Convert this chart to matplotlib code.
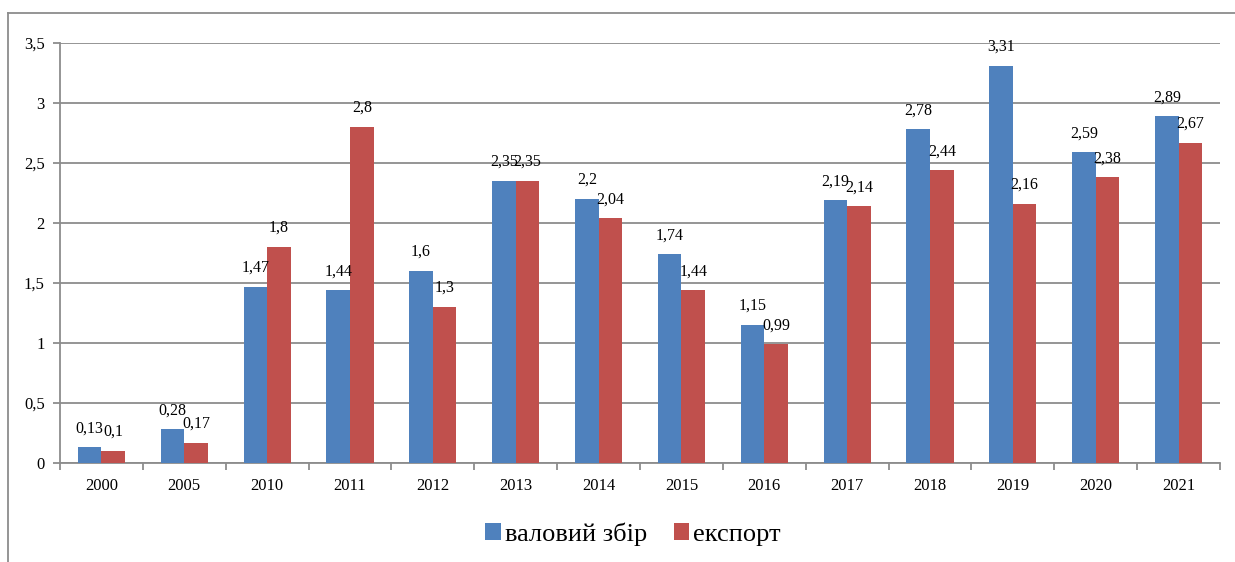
import matplotlib.pyplot as plt
from matplotlib.lines import Line2D
import numpy as np

years = ['2000', '2005', '2010', '2011', '2012', '2013', '2014',
         '2015', '2016', '2017', '2018', '2019', '2020', '2021']
harvest = [0.13, 0.28, 1.47, 1.44, 1.6, 2.35, 2.2, 1.74, 1.15, 2.19, 2.78, 3.31, 2.59, 2.89]
export = [0.1, 0.17, 1.8, 2.8, 1.3, 2.35, 2.04, 1.44, 0.99, 2.14, 2.44, 2.16, 2.38, 2.67]
series_names = ['валовий збір', 'експорт']

plt.rcParams['font.family'] = ['Liberation Serif', 'DejaVu Serif']

fig = plt.figure(figsize=(12.35, 5.62), dpi=100)
ax = fig.add_axes([60 / 1235, 99 / 562, 1160 / 1235, 420 / 562])

# outer frame of the chart area
fig.add_artist(Line2D([8 / 1235, 8 / 1235], [0, 1 - 13 / 562], transform=fig.transFigure,
                      color='#8c8c8c', lw=1.3))
fig.add_artist(Line2D([8 / 1235, 1], [1 - 13 / 562, 1 - 13 / 562], transform=fig.transFigure,
                      color='#8c8c8c', lw=1.3))

x = np.arange(len(years))
w = 0.285
b1 = ax.bar(x - w / 2, harvest, w, color='#4F81BD', label=series_names[0], zorder=3)
b2 = ax.bar(x + w / 2, export, w, color='#C0504D', label=series_names[1], zorder=3)

def fmt(v):
    return ('%g' % v).replace('.', ',')

for bars, vals in ((b1, harvest), (b2, export)):
    for rect, v in zip(bars, vals):
        ax.annotate(fmt(v), (rect.get_x() + rect.get_width() / 2, v),
                    xytext=(0, 19), textcoords='offset pixels',
                    ha='center', va='center', fontsize=11.5, zorder=4)

ax.set_xlim(-0.5, len(years) - 0.5)
ax.set_ylim(0, 3.5)
ax.set_yticks(np.arange(0, 3.51, 0.5))
ax.set_yticklabels([fmt(t) for t in np.arange(0, 3.51, 0.5)], fontsize=12)
ax.set_xticks(x)
ax.set_xticklabels(years, fontsize=12)
ax.set_xticks(np.arange(-0.5, len(years), 1), minor=True)
ax.tick_params(axis='x', which='major', length=0, pad=11)
ax.tick_params(axis='x', which='minor', length=5, color='#8c8c8c', width=1.3)
ax.tick_params(axis='y', length=5, color='#8c8c8c', width=1.3, pad=6)

ax.grid(axis='y', color='#8c8c8c', lw=1.3, zorder=0)
for s in ('top', 'right'):
    ax.spines[s].set_visible(False)
for s in ('left', 'bottom'):
    ax.spines[s].set_color('#8c8c8c')
    ax.spines[s].set_linewidth(1.3)

ax.legend(loc='center', bbox_to_anchor=(0.494, -0.17), ncol=2, frameon=False,
          fontsize=19, handlelength=0.6, handleheight=0.6, handletextpad=0.15,
          columnspacing=1.0)

fig.savefig('out.png', dpi=100)
